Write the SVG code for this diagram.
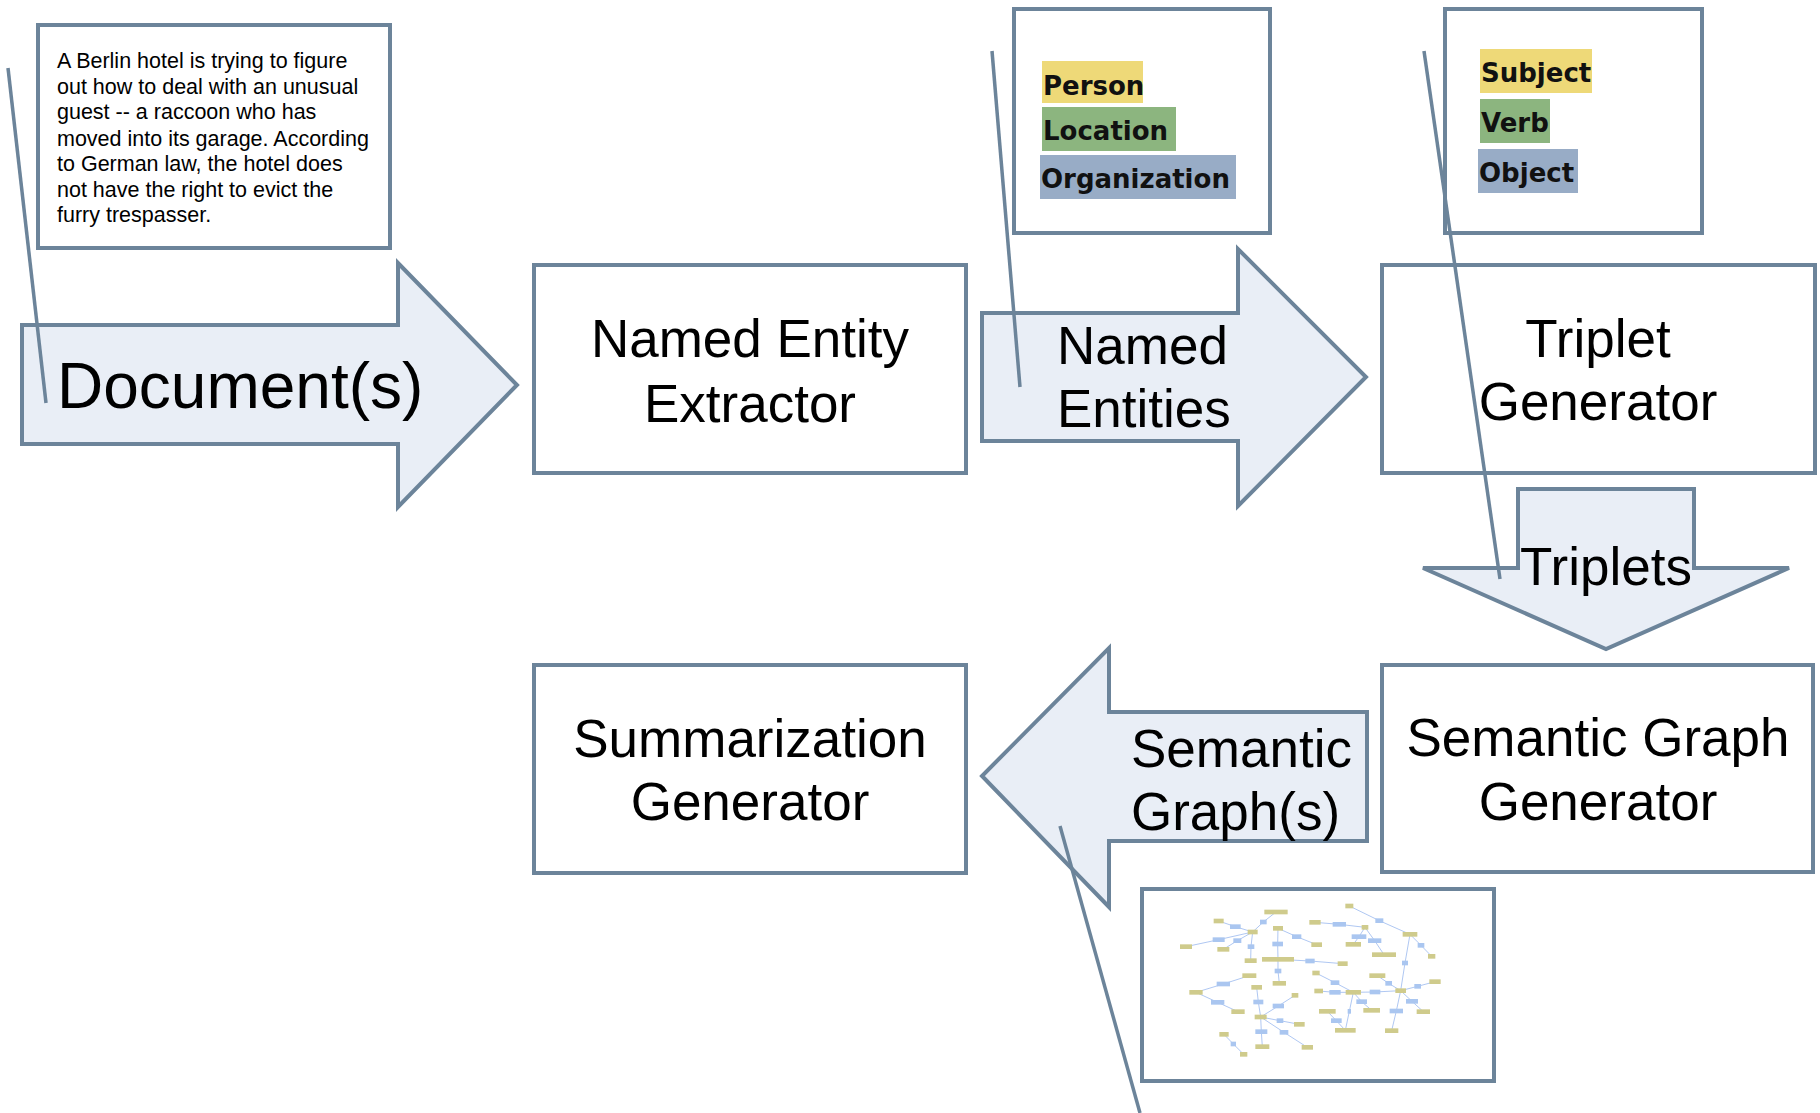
<svg xmlns="http://www.w3.org/2000/svg" width="1820" height="1113" viewBox="0 0 1820 1113">
<defs>
<style>
.box{fill:#ffffff;stroke:#6c849a;stroke-width:4}
.arr{fill:#e9eef6;stroke:#6c849a;stroke-width:4;stroke-linejoin:miter}
.ln{stroke:#6c849a;stroke-width:3.5;fill:none}
.big{font-family:"Liberation Sans",Arial,sans-serif;font-size:53px;fill:#000}
.doc{font-family:"Liberation Sans",Arial,sans-serif;font-size:64px;fill:#000}
.para{font-family:"Liberation Sans",Arial,sans-serif;font-size:21.5px;fill:#000}
.tag{font-family:"DejaVu Sans",Verdana,sans-serif;font-weight:bold;font-size:26px;fill:#111}
.e{stroke:#9fbcef;stroke-width:2.5;fill:none}
.t{fill:#cfcb8c}
.b{fill:#aac6f0}
</style>
<filter id="blur" x="-5%" y="-5%" width="110%" height="110%"><feGaussianBlur stdDeviation="2"/></filter>
</defs>

<g id="source-text">
<rect class="box" x="38" y="25" width="352" height="223"/>
<text class="para" x="57" y="68">A Berlin hotel is trying to figure</text>
<text class="para" x="57" y="94">out how to deal with an unusual</text>
<text class="para" x="57" y="119">guest -- a raccoon who has</text>
<text class="para" x="57" y="146">moved into its garage. According</text>
<text class="para" x="57" y="171">to German law, the hotel does</text>
<text class="para" x="57" y="197">not have the right to evict the</text>
<text class="para" x="57" y="222">furry trespasser.</text>
</g>

<g id="documents">
<polygon class="arr" points="22,325 398,325 398,263 517,385 398,507 398,444 22,444"/>
<text class="doc" x="57" y="408">Document(s)</text>
</g>

<g id="named-entity-extractor">
<rect class="box" x="534" y="265" width="432" height="208"/>
<text class="big" x="750" y="357" text-anchor="middle">Named Entity</text>
<text class="big" x="750" y="422" text-anchor="middle">Extractor</text>
</g>

<g id="named-entities">
<polygon class="arr" points="982,313 1238,313 1238,249 1366,377 1238,506 1238,441 982,441"/>
<text class="big" x="1057" y="364">Named</text>
<text class="big" x="1057" y="427">Entities</text>
</g>

<g id="entity-types">
<rect class="box" x="1014" y="9" width="256" height="224"/>
<rect x="1042" y="61" width="101" height="42" fill="#eed978"/>
<rect x="1042" y="107" width="134" height="44" fill="#8cb57f"/>
<rect x="1040" y="155" width="196" height="44" fill="#98acc6"/>
<text class="tag" x="1043" y="95">Person</text>
<text class="tag" x="1043" y="140">Location</text>
<text class="tag" x="1041" y="188">Organization</text>
</g>

<g id="triplet-parts">
<rect class="box" x="1445" y="9" width="257" height="224"/>
<rect x="1480" y="49" width="112" height="44" fill="#eed978"/>
<rect x="1480" y="99" width="70" height="44" fill="#8cb57f"/>
<rect x="1478" y="149" width="100" height="44" fill="#98acc6"/>
<text class="tag" x="1481" y="82">Subject</text>
<text class="tag" x="1481" y="132">Verb</text>
<text class="tag" x="1479" y="182">Object</text>
</g>

<g id="triplet-generator">
<rect class="box" x="1382" y="265" width="433" height="208"/>
<text class="big" x="1598" y="357" text-anchor="middle">Triplet</text>
<text class="big" x="1598" y="420" text-anchor="middle">Generator</text>
</g>

<g id="triplets">
<polygon class="arr" points="1518,489 1694,489 1694,568 1789,568 1606,649 1423,568 1518,568"/>
<text class="big" x="1606" y="585" text-anchor="middle">Triplets</text>
</g>

<g id="semantic-graph-generator">
<rect class="box" x="1382" y="665" width="431" height="207"/>
<text class="big" x="1598" y="756" text-anchor="middle">Semantic Graph</text>
<text class="big" x="1598" y="820" text-anchor="middle">Generator</text>
</g>

<g id="semantic-graphs">
<polygon class="arr" points="1367,712 1109,712 1109,648 982,776 1109,907 1109,841 1367,841"/>
<text class="big" x="1131" y="767">Semantic</text>
<text class="big" x="1131" y="830">Graph(s)</text>
</g>

<g id="summarization-generator">
<rect class="box" x="534" y="665" width="432" height="208"/>
<text class="big" x="750" y="757" text-anchor="middle">Summarization</text>
<text class="big" x="750" y="820" text-anchor="middle">Generator</text>
</g>

<g id="graph-picture">
<rect class="box" x="1142" y="889" width="352" height="192"/>
<g transform="translate(1120,870) scale(0.33333)" filter="url(#blur)">
<g class="e">
<line x1="468" y1="126" x2="430" y2="156"/><line x1="430" y1="156" x2="398" y2="186"/>
<line x1="296" y1="153" x2="346" y2="170"/><line x1="346" y1="170" x2="398" y2="186"/>
<line x1="398" y1="186" x2="296" y2="209"/><line x1="296" y1="209" x2="198" y2="230"/>
<line x1="398" y1="186" x2="352" y2="212"/><line x1="352" y1="212" x2="310" y2="238"/>
<line x1="398" y1="186" x2="393" y2="230"/><line x1="393" y1="230" x2="392" y2="272"/>
<line x1="474" y1="175" x2="473" y2="222"/><line x1="474" y1="175" x2="530" y2="200"/>
<line x1="530" y1="200" x2="590" y2="224"/><line x1="473" y1="222" x2="474" y2="268"/>
<line x1="474" y1="268" x2="570" y2="273"/><line x1="570" y1="273" x2="668" y2="281"/>
<line x1="474" y1="268" x2="474" y2="303"/><line x1="474" y1="303" x2="478" y2="340"/>
<line x1="688" y1="108" x2="778" y2="152"/><line x1="778" y1="152" x2="870" y2="193"/>
<line x1="585" y1="157" x2="658" y2="163"/><line x1="658" y1="163" x2="735" y2="172"/>
<line x1="735" y1="172" x2="717" y2="200"/><line x1="717" y1="200" x2="700" y2="223"/>
<line x1="735" y1="172" x2="764" y2="212"/><line x1="764" y1="212" x2="792" y2="254"/>
<line x1="870" y1="193" x2="903" y2="226"/><line x1="903" y1="226" x2="935" y2="259"/>
<line x1="870" y1="193" x2="855" y2="279"/><line x1="855" y1="279" x2="842" y2="362"/>
<line x1="588" y1="309" x2="645" y2="338"/><line x1="645" y1="338" x2="700" y2="367"/>
<line x1="772" y1="317" x2="806" y2="340"/><line x1="806" y1="340" x2="842" y2="362"/>
<line x1="945" y1="335" x2="893" y2="349"/><line x1="893" y1="349" x2="842" y2="362"/>
<line x1="596" y1="363" x2="645" y2="367"/><line x1="645" y1="367" x2="700" y2="367"/>
<line x1="700" y1="367" x2="765" y2="366"/><line x1="765" y1="366" x2="842" y2="362"/>
<line x1="700" y1="367" x2="725" y2="395"/><line x1="725" y1="395" x2="755" y2="421"/>
<line x1="700" y1="367" x2="688" y2="424"/><line x1="688" y1="424" x2="676" y2="481"/>
<line x1="622" y1="424" x2="649" y2="452"/><line x1="649" y1="452" x2="676" y2="481"/>
<line x1="842" y1="362" x2="876" y2="394"/><line x1="876" y1="394" x2="910" y2="425"/>
<line x1="842" y1="362" x2="829" y2="423"/><line x1="829" y1="423" x2="815" y2="482"/>
<line x1="388" y1="317" x2="310" y2="342"/><line x1="310" y1="342" x2="228" y2="367"/>
<line x1="228" y1="367" x2="293" y2="397"/><line x1="293" y1="397" x2="354" y2="425"/>
<line x1="410" y1="352" x2="415" y2="396"/><line x1="415" y1="396" x2="422" y2="441"/>
<line x1="525" y1="376" x2="475" y2="408"/><line x1="475" y1="408" x2="422" y2="441"/>
<line x1="422" y1="441" x2="480" y2="452"/><line x1="480" y1="452" x2="538" y2="463"/>
<line x1="422" y1="441" x2="424" y2="485"/><line x1="424" y1="485" x2="427" y2="530"/>
<line x1="422" y1="441" x2="492" y2="487"/><line x1="492" y1="487" x2="562" y2="532"/>
<line x1="312" y1="493" x2="340" y2="522"/><line x1="340" y1="522" x2="371" y2="553"/>
</g>
<g class="t">
<rect x="433" y="119" width="70" height="14"/><rect x="281" y="146" width="30" height="14"/>
<rect x="383" y="179" width="30" height="14"/><rect x="180" y="223" width="36" height="14"/>
<rect x="292" y="231" width="36" height="14"/><rect x="374" y="265" width="36" height="14"/>
<rect x="459" y="168" width="30" height="14"/><rect x="574" y="217" width="32" height="14"/>
<rect x="426" y="261" width="96" height="14"/><rect x="653" y="274" width="30" height="14"/>
<rect x="458" y="333" width="40" height="14"/><rect x="676" y="101" width="24" height="14"/>
<rect x="568" y="150" width="34" height="14"/><rect x="725" y="165" width="20" height="14"/>
<rect x="677" y="216" width="46" height="14"/><rect x="756" y="247" width="72" height="14"/>
<rect x="848" y="186" width="44" height="14"/><rect x="924" y="252" width="22" height="14"/>
<rect x="577" y="302" width="22" height="14"/><rect x="748" y="310" width="48" height="14"/>
<rect x="928" y="328" width="34" height="14"/><rect x="583" y="356" width="26" height="14"/>
<rect x="677" y="360" width="46" height="14"/><rect x="826" y="355" width="32" height="14"/>
<rect x="208" y="360" width="40" height="14"/><rect x="367" y="310" width="42" height="14"/>
<rect x="334" y="418" width="40" height="14"/><rect x="394" y="345" width="32" height="14"/>
<rect x="515" y="369" width="20" height="14"/><rect x="404" y="434" width="36" height="14"/>
<rect x="522" y="456" width="32" height="14"/><rect x="406" y="523" width="42" height="14"/>
<rect x="545" y="525" width="34" height="14"/><rect x="298" y="486" width="28" height="14"/>
<rect x="360" y="546" width="22" height="14"/><rect x="730" y="414" width="50" height="14"/>
<rect x="597" y="417" width="50" height="14"/><rect x="645" y="474" width="62" height="14"/>
<rect x="890" y="418" width="40" height="14"/><rect x="795" y="475" width="40" height="14"/>
</g>
<g class="b">
<rect x="330" y="163" width="32" height="14"/><rect x="420" y="149" width="20" height="14"/>
<rect x="278" y="202" width="36" height="14"/><rect x="340" y="205" width="24" height="14"/>
<rect x="383" y="223" width="20" height="14"/><rect x="457" y="215" width="32" height="14"/>
<rect x="516" y="193" width="28" height="14"/><rect x="556" y="266" width="28" height="14"/>
<rect x="464" y="296" width="20" height="14"/><rect x="766" y="145" width="24" height="14"/>
<rect x="638" y="156" width="40" height="14"/><rect x="695" y="193" width="44" height="14"/>
<rect x="744" y="205" width="40" height="14"/><rect x="893" y="219" width="20" height="14"/>
<rect x="846" y="272" width="18" height="14"/><rect x="632" y="331" width="26" height="14"/>
<rect x="796" y="333" width="20" height="14"/><rect x="883" y="342" width="20" height="14"/>
<rect x="628" y="360" width="34" height="14"/><rect x="749" y="359" width="32" height="14"/>
<rect x="290" y="335" width="40" height="14"/><rect x="273" y="390" width="40" height="14"/>
<rect x="400" y="389" width="30" height="14"/><rect x="458" y="401" width="34" height="14"/>
<rect x="470" y="445" width="20" height="14"/><rect x="406" y="478" width="36" height="14"/>
<rect x="479" y="480" width="26" height="14"/><rect x="332" y="515" width="16" height="14"/>
<rect x="709" y="388" width="32" height="14"/><rect x="683" y="417" width="10" height="14"/>
<rect x="633" y="445" width="32" height="14"/><rect x="858" y="387" width="36" height="14"/>
<rect x="809" y="416" width="40" height="14"/>
</g>
</g>
</g>

<g id="connectors">
<line class="ln" x1="8" y1="68" x2="46" y2="403"/>
<line class="ln" x1="992" y1="51" x2="1020" y2="387"/>
<line class="ln" x1="1424" y1="51" x2="1500" y2="579"/>
<line class="ln" x1="1060" y1="826" x2="1140" y2="1113"/>
</g>
</svg>
